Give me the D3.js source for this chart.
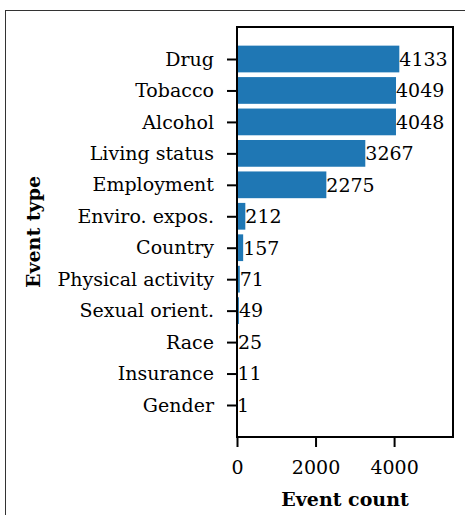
<!DOCTYPE html>
<html>
<head>
<meta charset="utf-8">
<script src="https://cdn.jsdelivr.net/npm/d3@7"></script>
<style>
  html, body { margin: 0; padding: 0; background: #fff; }
  svg { display: block; }
  text { font-family: "DejaVu Serif", serif; fill: #000; }
</style>
</head>
<body>
<svg id="chart" width="465" height="515"></svg>
<script>
// Event types, ordered top to bottom
const categories = ["Drug", "Tobacco", "Alcohol", "Living status", "Employment",
  "Enviro. expos.", "Country", "Physical activity", "Sexual orient.", "Race",
  "Insurance", "Gender"];
const counts = [4133, 4049, 4048, 3267, 2275, 212, 157, 71, 49, 25, 11, 1];
const xTicks = [0, 2000, 4000];
const xMax = 5500;

const plot = { left: 237, right: 453, top: 27, bottom: 437 };
const barH = 0.85;
const fontSize = 19;

const svg = d3.select("#chart");

// Figure frame
svg.append("rect")
  .attr("x", 5.5).attr("y", 10.5)
  .attr("width", 600).attr("height", 600)
  .attr("fill", "none").attr("stroke", "#333").attr("stroke-width", 1);

const x = d3.scaleLinear().domain([0, xMax]).range([plot.left, plot.right]);

// Category positions with 5% padding around the bar extent
const lo = -barH / 2, hi = categories.length - 1 + barH / 2;
const pad = (hi - lo) * 0.05;
const y = d3.scaleLinear().domain([lo - pad, hi + pad]).range([plot.top, plot.bottom]);
const bandPx = Math.abs(y(barH) - y(0));

const data = categories.map((c, i) => ({ c, i, v: counts[i] }));

// Bars
svg.append("g").selectAll("rect").data(data).join("rect")
  .attr("x", x(0))
  .attr("y", d => y(d.i - barH / 2))
  .attr("width", d => x(d.v) - x(0))
  .attr("height", bandPx)
  .attr("fill", "#1f77b4");

// Value labels at bar ends
svg.append("g").selectAll("text").data(data).join("text")
  .attr("x", d => x(d.v))
  .attr("y", d => y(d.i))
  .attr("dy", "0.36em")
  .attr("font-size", fontSize)
  .text(d => d.v);

// Axes
const yAxis = d3.axisLeft(y)
  .tickValues(d3.range(categories.length))
  .tickFormat(i => categories[i])
  .tickSize(10).tickPadding(13);
const gy = svg.append("g").attr("transform", `translate(${plot.left},0)`).call(yAxis);
gy.select(".domain").remove();
gy.selectAll(".tick line").attr("stroke", "#000").attr("stroke-width", 2);
gy.selectAll(".tick text").attr("font-size", fontSize).attr("font-family", "DejaVu Serif").attr("fill", "#000");

const xAxis = d3.axisBottom(x).tickValues(xTicks).tickFormat(d3.format("d"))
  .tickSize(10).tickPadding(14);
const gx = svg.append("g").attr("transform", `translate(0,${plot.bottom})`).call(xAxis);
gx.select(".domain").remove();
gx.selectAll(".tick line").attr("stroke", "#000").attr("stroke-width", 2);
gx.selectAll(".tick text").attr("font-size", fontSize).attr("font-family", "DejaVu Serif").attr("fill", "#000");

// Plot frame
svg.append("rect")
  .attr("x", plot.left).attr("y", plot.top)
  .attr("width", plot.right - plot.left).attr("height", plot.bottom - plot.top)
  .attr("fill", "none").attr("stroke", "#000").attr("stroke-width", 2);

// Axis titles
svg.append("text")
  .attr("x", (plot.left + plot.right) / 2).attr("y", 506)
  .attr("text-anchor", "middle").attr("font-size", fontSize).attr("font-weight", "bold")
  .text("Event count");

svg.append("text")
  .attr("transform", `translate(39.5,${(plot.top + plot.bottom) / 2}) rotate(-90)`)
  .attr("text-anchor", "middle").attr("font-size", fontSize).attr("font-weight", "bold")
  .text("Event type");
</script>
</body>
</html>
